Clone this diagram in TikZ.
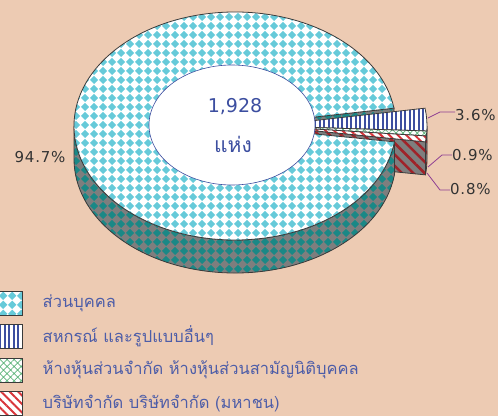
\documentclass[tikz,border=0pt]{standalone}
\usepackage{fontspec}
\setmainfont{Loma}[Script=Thai]
\newfontfamily\numfont{DejaVu Sans}
\newfontfamily\pctfont{DejaVu Sans}[LetterSpace=5]
\usetikzlibrary{patterns.meta,positioning}

\definecolor{bgpeach}{HTML}{EDCBB3}
\definecolor{cyanA}{HTML}{66CAD9}
\definecolor{tealA}{HTML}{1A8886}
\definecolor{wallgray}{HTML}{7E7E7E}
\definecolor{blueA}{HTML}{3C4EA0}
\definecolor{greenA}{HTML}{5DB47A}
\definecolor{redA}{HTML}{D8343A}
\definecolor{redB}{HTML}{A02228}
\definecolor{edge}{HTML}{3A3A3A}
\definecolor{leadpurple}{HTML}{8E3E92}
\definecolor{txtblue}{HTML}{4D5DA8}
\definecolor{numgray}{HTML}{333333}

\tikzdeclarepattern{
  name=diamonds, type=uncolored,
  bounding box={(0,0) and (9pt,9pt)}, tile size={(9pt,9pt)},
  code={\fill (0,4.5pt) -- (4.5pt,0) -- (9pt,4.5pt) -- (4.5pt,9pt) -- cycle;}
}

\def\mainwall{(74,290) arc[start angle=180,end angle=352,x radius=161pt,y radius=114pt] -- ++(0,-33pt) arc[start angle=352,end angle=180,x radius=161pt,y radius=114pt] -- cycle}
\def\maincut{(235,290) -- ++(9:161pt and 114pt) -- ++(0,-33pt) -- (235,257) -- cycle}
\def\maintop{(235,290) -- ++(9:161pt and 114pt) arc[start angle=9,end angle=352,x radius=161pt,y radius=114pt] -- cycle}
\def\redcut{(266,290) -- ++(-8:161pt and 114pt) -- ++(0,-33pt) -- (266,257) -- cycle}
\def\smallwall{(425.43,274.13) arc[start angle=-8,end angle=0,x radius=161pt,y radius=114pt] -- ++(0,-33pt) arc[start angle=0,end angle=-8,x radius=161pt,y radius=114pt] -- cycle}
\def\bluetop{(266,290) -- ++(9:161pt and 114pt) arc[start angle=9,end angle=-2.5,x radius=161pt,y radius=114pt] -- cycle}
\def\greentop{(266,290) -- ++(-2.5:161pt and 114pt) arc[start angle=-2.5,end angle=-5,x radius=161pt,y radius=114pt] -- cycle}
\def\redtop{(266,290) -- ++(-5:161pt and 114pt) arc[start angle=-5,end angle=-8,x radius=161pt,y radius=114pt] -- cycle}
\def\hole{(232,291) ellipse [x radius=83pt,y radius=60pt]}

\tikzset{
  facecyan/.style={preaction={fill=white}, pattern=diamonds, pattern color=cyanA},
  faceteal/.style={preaction={fill=wallgray}, pattern=diamonds, pattern color=tealA},
  faceblue/.style={preaction={fill=white}, pattern={Lines[angle=90,distance=4.5pt,line width=2pt]}, pattern color=blueA},
  facegreen/.style={preaction={fill=white}, pattern={Hatch[angle=45,distance=5pt,line width=0.7pt]}, pattern color=greenA},
  facered/.style={preaction={fill=white}, pattern={Lines[angle=-45,distance=6pt,line width=2pt]}, pattern color=redA},
  facedark/.style={preaction={fill=wallgray}, pattern={Lines[angle=-45,distance=8pt,line width=2.5pt]}, pattern color=redB},
  rim/.style={draw=edge, line width=0.8pt},
  legbox/.style={draw=edge, line width=1pt, minimum width=24pt, minimum height=24pt, inner sep=0pt},
  legtext/.style={text=txtblue, font=\fontsize{16.5}{19}\selectfont, inner sep=0pt},
  pct/.style={text=numgray, font=\pctfont\fontsize{15}{18}\selectfont, inner sep=0pt},
  leader/.style={draw=leadpurple, line width=0.8pt}
}

\begin{document}
\begin{tikzpicture}[x=1pt,y=1pt]
    \useasboundingbox (0,0) rectangle (498,416);
    \fill[bgpeach] (0,0) rectangle (498,416);

    % pie
    \draw[rim, faceteal] \maincut;
    \draw[rim, facedark] \redcut;
    \draw[rim, facedark] \smallwall;
    \draw[rim, faceblue] \bluetop;
    \draw[rim, facegreen] \greentop;
    \draw[rim, facered] \redtop;
    \draw[rim, faceteal] \mainwall;
    \draw[rim, facecyan] \maintop;
    \draw[blueA, fill=white, line width=0.6pt] \hole;
    \node[text=blueA, font=\numfont\fontsize{19}{22}\selectfont] (total) at (235,309) {1,928};
    \node[text=blueA, font=\fontsize{21}{24}\selectfont] (unit) at (233,272) {แห่ง};

    % labels
    \node[pct] (p947) at (40,259) {94.7\%};
    \node[pct, anchor=west] (p36) at (455,301) {3.6\%};
    \node[pct, anchor=west] (p09) at (452,261) {0.9\%};
    \node[pct, anchor=west] (p08) at (450,227) {0.8\%};
    \coordinate (a36) at (428,298);
    \coordinate (b36) at (440,304);
    \coordinate (a09) at (428,249);
    \coordinate (b09) at (442,261);
    \coordinate (a08) at (427,243);
    \coordinate (b08) at (440,226);
    \draw[leader] (a36) -- (b36) -- (b36 -| p36.west);
    \draw[leader] (a09) -- (b09) -- (p09.west);
    \draw[leader] (a08) -- (b08) -- (b08 -| p08.west);

    % legend
    \node[legbox, facecyan] (box1) at (10,113) {};
    \node[legbox, faceblue] (box2) at (10,79.5) {};
    \node[legbox, facegreen] (box3) at (10,46) {};
    \node[legbox, facered] (box4) at (10,12.5) {};
    \node[legtext, right=20pt of box1] (leg1) {ส่วนบุคคล};
    \node[legtext, right=20pt of box2] (leg2) {สหกรณ์ และรูปแบบอื่นๆ};
    \node[legtext, right=20pt of box3] (leg3) {ห้างหุ้นส่วนจำกัด ห้างหุ้นส่วนสามัญนิติบุคคล};
    \node[legtext, right=20pt of box4] (leg4) {บริษัทจำกัด บริษัทจำกัด (มหาชน)};
\end{tikzpicture}
\end{document}
